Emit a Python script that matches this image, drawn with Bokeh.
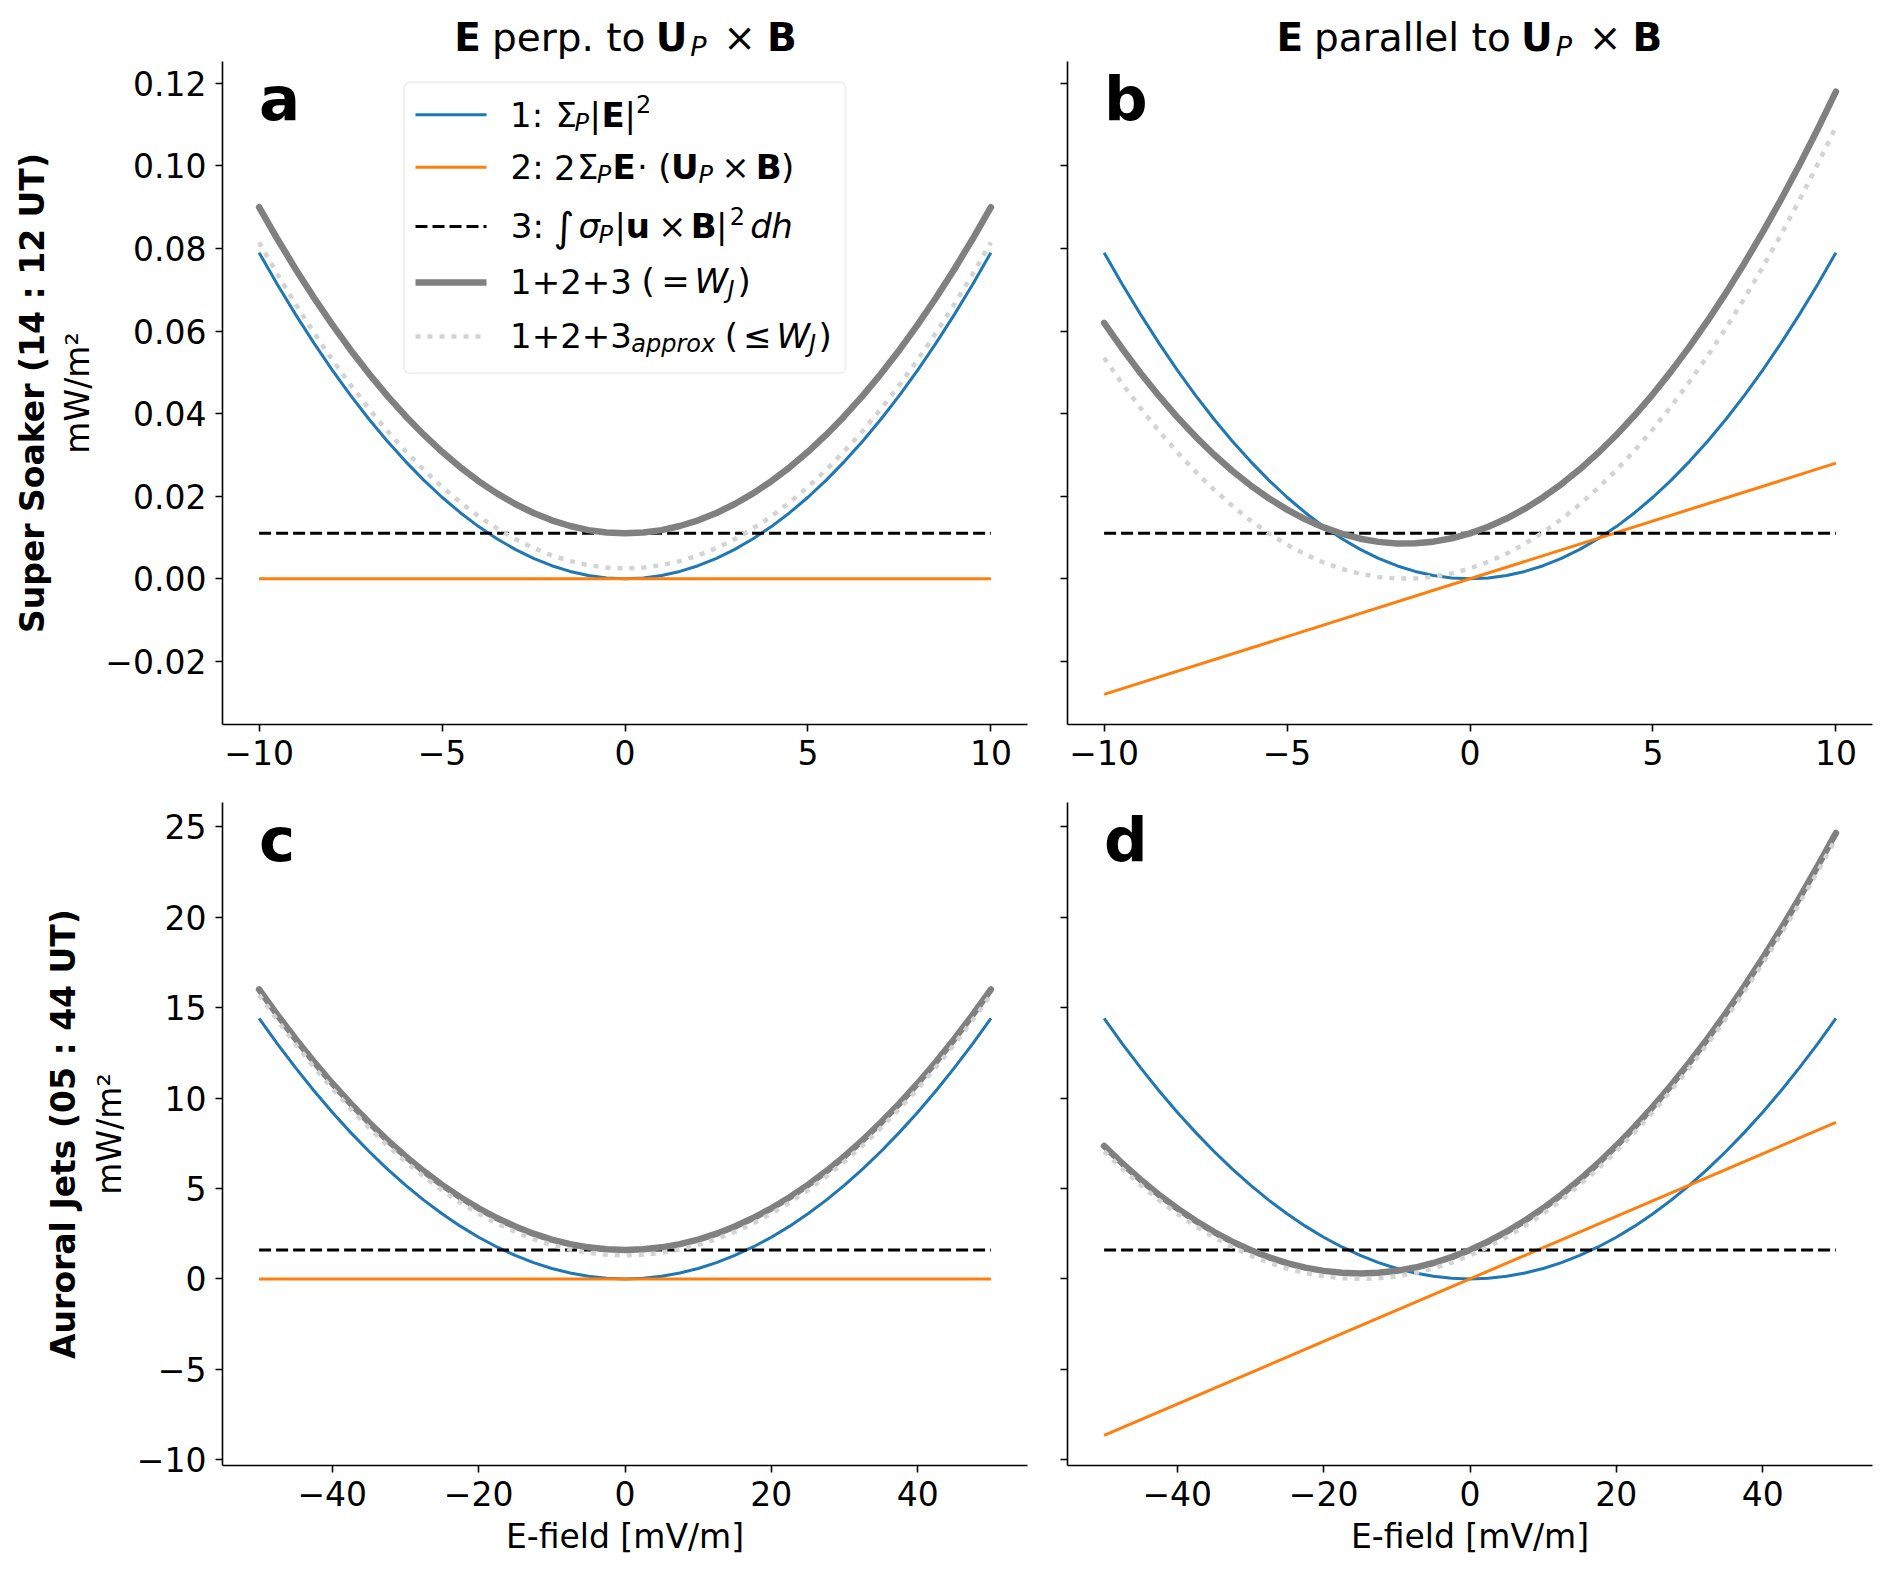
import math
from bokeh.plotting import figure
from bokeh.layouts import column, row
from bokeh.models import (Range1d, FixedTicker, CustomJSTickFormatter, Label,
                          BoxAnnotation, Arrow, LinearAxis)
from bokeh.embed import file_html
from bokeh.resources import INLINE

FONT = "DejaVu Sans"

# ---------------- data: Super Soaker (14:12 UT) ----------------
E_ss = [-10, -9.5, -9, -8.5, -8, -7.5, -7, -6.5, -6, -5.5, -5, -4.5, -4, -3.5, -3, -2.5, -2, -1.5, -1, -0.5, 0,
        0.5, 1, 1.5, 2, 2.5, 3, 3.5, 4, 4.5, 5, 5.5, 6, 6.5, 7, 7.5, 8, 8.5, 9, 9.5, 10]
ss_term1 = [0.07900, 0.07130, 0.06399, 0.05708, 0.05056, 0.04444, 0.03871, 0.03338, 0.02844, 0.02390, 0.01975,
            0.01600, 0.01264, 0.00968, 0.00711, 0.00494, 0.00316, 0.00178, 0.00079, 0.00020, 0.0,
            0.00020, 0.00079, 0.00178, 0.00316, 0.00494, 0.00711, 0.00968, 0.01264, 0.01600, 0.01975,
            0.02390, 0.02844, 0.03338, 0.03871, 0.04444, 0.05056, 0.05708, 0.06399, 0.07130, 0.07900]
ss_perp_total = [0.09000, 0.08230, 0.07499, 0.06808, 0.06156, 0.05544, 0.04971, 0.04438, 0.03944, 0.03490, 0.03075,
                 0.02700, 0.02364, 0.02068, 0.01811, 0.01594, 0.01416, 0.01278, 0.01179, 0.01120, 0.01100,
                 0.01120, 0.01179, 0.01278, 0.01416, 0.01594, 0.01811, 0.02068, 0.02364, 0.02700, 0.03075,
                 0.03490, 0.03944, 0.04438, 0.04971, 0.05544, 0.06156, 0.06808, 0.07499, 0.08230, 0.09000]
ss_perp_approx = [0.08150, 0.07380, 0.06649, 0.05958, 0.05306, 0.04694, 0.04121, 0.03588, 0.03094, 0.02640, 0.02225,
                  0.01850, 0.01514, 0.01218, 0.00961, 0.00744, 0.00566, 0.00428, 0.00329, 0.00270, 0.00250,
                  0.00270, 0.00329, 0.00428, 0.00566, 0.00744, 0.00961, 0.01218, 0.01514, 0.01850, 0.02225,
                  0.02640, 0.03094, 0.03588, 0.04121, 0.04694, 0.05306, 0.05958, 0.06649, 0.07380, 0.08150]
ss_par_total = [0.06200, 0.05570, 0.04979, 0.04428, 0.03916, 0.03444, 0.03011, 0.02618, 0.02264, 0.01950, 0.01675,
                0.01440, 0.01244, 0.01088, 0.00971, 0.00894, 0.00856, 0.00858, 0.00899, 0.00980, 0.01100,
                0.01260, 0.01459, 0.01698, 0.01976, 0.02294, 0.02651, 0.03048, 0.03484, 0.03960, 0.04475,
                0.05030, 0.05624, 0.06258, 0.06931, 0.07644, 0.08396, 0.09188, 0.10019, 0.10890, 0.11800]
ss_par_approx = [0.05350, 0.04720, 0.04129, 0.03578, 0.03066, 0.02594, 0.02161, 0.01768, 0.01414, 0.01100, 0.00825,
                 0.00590, 0.00394, 0.00238, 0.00121, 0.00044, 0.00006, 0.00008, 0.00049, 0.00130, 0.00250,
                 0.00410, 0.00609, 0.00848, 0.01126, 0.01444, 0.01801, 0.02198, 0.02634, 0.03110, 0.03625,
                 0.04180, 0.04774, 0.05408, 0.06081, 0.06794, 0.07546, 0.08338, 0.09169, 0.10040, 0.10950]
# straight lines (terms 2 and 3)
E_ss_lin = [-10, 0, 10]
ss_perp_term2 = [0.0, 0.0, 0.0]
ss_par_term2 = [-0.0280, 0.0, 0.0280]
ss_term3 = [0.011, 0.011, 0.011]

# ---------------- data: Auroral Jets (05:44 UT) ----------------
E_aj = [-50, -47.5, -45, -42.5, -40, -37.5, -35, -32.5, -30, -27.5, -25, -22.5, -20, -17.5, -15, -12.5, -10, -7.5,
        -5, -2.5, 0, 2.5, 5, 7.5, 10, 12.5, 15, 17.5, 20, 22.5, 25, 27.5, 30, 32.5, 35, 37.5, 40, 42.5, 45, 47.5, 50]
aj_term1 = [14.400, 12.996, 11.664, 10.404, 9.216, 8.100, 7.056, 6.084, 5.184, 4.356, 3.600,
            2.916, 2.304, 1.764, 1.296, 0.900, 0.576, 0.324, 0.144, 0.036, 0.0,
            0.036, 0.144, 0.324, 0.576, 0.900, 1.296, 1.764, 2.304, 2.916, 3.600,
            4.356, 5.184, 6.084, 7.056, 8.100, 9.216, 10.404, 11.664, 12.996, 14.400]
aj_perp_total = [16.000, 14.596, 13.264, 12.004, 10.816, 9.700, 8.656, 7.684, 6.784, 5.956, 5.200,
                 4.516, 3.904, 3.364, 2.896, 2.500, 2.176, 1.924, 1.744, 1.636, 1.600,
                 1.636, 1.744, 1.924, 2.176, 2.500, 2.896, 3.364, 3.904, 4.516, 5.200,
                 5.956, 6.784, 7.684, 8.656, 9.700, 10.816, 12.004, 13.264, 14.596, 16.000]
aj_perp_approx = [15.700, 14.296, 12.964, 11.704, 10.516, 9.400, 8.356, 7.384, 6.484, 5.656, 4.900,
                  4.216, 3.604, 3.064, 2.596, 2.200, 1.876, 1.624, 1.444, 1.336, 1.300,
                  1.336, 1.444, 1.624, 1.876, 2.200, 2.596, 3.064, 3.604, 4.216, 4.900,
                  5.656, 6.484, 7.384, 8.356, 9.400, 10.516, 11.704, 12.964, 14.296, 15.700]
aj_par_total = [7.350, 6.379, 5.479, 4.652, 3.896, 3.213, 2.601, 2.062, 1.594, 1.199, 0.875,
                0.624, 0.444, 0.337, 0.301, 0.338, 0.446, 0.627, 0.879, 1.204, 1.600,
                2.069, 2.609, 3.222, 3.906, 4.663, 5.491, 6.392, 7.364, 8.409, 9.525,
                10.714, 11.974, 13.307, 14.711, 16.188, 17.736, 19.357, 21.049, 22.814, 24.650]
aj_par_approx = [7.050, 6.079, 5.179, 4.352, 3.596, 2.913, 2.301, 1.762, 1.294, 0.899, 0.575,
                 0.324, 0.144, 0.037, 0.001, 0.038, 0.146, 0.327, 0.579, 0.904, 1.300,
                 1.769, 2.309, 2.922, 3.606, 4.363, 5.191, 6.092, 7.064, 8.109, 9.225,
                 10.414, 11.674, 13.007, 14.411, 15.888, 17.436, 19.057, 20.749, 22.514, 24.350]
E_aj_lin = [-50, 0, 50]
aj_perp_term2 = [0.0, 0.0, 0.0]
aj_par_term2 = [-8.650, 0.0, 8.650]
aj_term3 = [1.6, 1.6, 1.6]

# ---------------- ticks / labels ----------------
ss_xticks = [-10, -5, 0, 5, 10]
ss_xtick_labels = ["\u221210", "\u22125", "0", "5", "10"]
aj_xticks = [-40, -20, 0, 20, 40]
aj_xtick_labels = ["\u221240", "\u221220", "0", "20", "40"]
ss_yticks = [-0.02, 0.0, 0.02, 0.04, 0.06, 0.08, 0.10, 0.12]
ss_ytick_labels = ["\u22120.02", "0.00", "0.02", "0.04", "0.06", "0.08", "0.10", "0.12"]
aj_yticks = [-10, -5, 0, 5, 10, 15, 20, 25]
aj_ytick_labels = ["\u221210", "\u22125", "0", "5", "10", "15", "20", "25"]
blank_labels = ["", "", "", "", "", "", "", ""]

row_titles = ["Super Soaker (14 : 12 UT)", "Auroral Jets (05 : 44 UT)"]
unit_label = "mW/m\u00b2"
x_label = "E-field [mV/m]"
panel_letters = ["a", "b", "c", "d"]

ss_xlim = (-11, 11)
ss_ylim = (-0.0353, 0.1253)
aj_xlim = (-55, 55)
aj_ylim = (-10.316, 26.336)

BLUE = "#1f77b4"
ORANGE = "#ff7f0e"
GRAY = "#808080"
LGRAY = "#d3d3d3"

MID = 0.346  # (ascent - descent) / 2 of DejaVu Sans, in em


def fmt(ticks, labels):
    return CustomJSTickFormatter(args=dict(t=ticks, l=labels), code="""
        let b = 0;
        for (let i = 0; i < t.length; i++) {
            if (Math.abs(t[i] - tick) < Math.abs(t[b] - tick)) { b = i; }
        }
        return l[b];
    """)


def make_panel(width, height, bl, br, bt, bb, xlim, ylim, xt, xl, yt, yl, xlabel=None, ylabels=None):
    p = figure(width=width, height=height, x_range=Range1d(*xlim), y_range=Range1d(*ylim),
               output_backend="svg", toolbar_location=None,
               min_border_left=bl, min_border_right=br, min_border_top=bt, min_border_bottom=bb)
    p.outline_line_color = None
    p.grid.visible = False
    p.background_fill_color = "white"
    p.border_fill_color = "white"
    for ax, ticks, labels in ((p.xaxis[0], xt, xl), (p.yaxis[0], yt, yl)):
        ax.ticker = FixedTicker(ticks=ticks, minor_ticks=[])
        ax.formatter = fmt(ticks, labels)
        ax.axis_line_width = 1.6
        ax.axis_line_color = "black"
        ax.major_tick_line_width = 1.6
        ax.major_tick_line_color = "black"
        ax.major_tick_in = 0
        ax.major_tick_out = 7
        ax.minor_tick_line_color = None
        ax.major_label_text_font = FONT
        ax.major_label_text_font_size = "33px"
        ax.major_label_text_color = "black"
    p.xaxis[0].major_label_standoff = 8
    p.yaxis[0].major_label_standoff = 9
    if xlabel:
        ax = p.xaxis[0]
        ax.axis_label = xlabel
        ax.axis_label_text_font = FONT
        ax.axis_label_text_font_size = "33px"
        ax.axis_label_text_font_style = "normal"
        ax.axis_label_text_color = "black"
        ax.axis_label_standoff = 8
    if ylabels:
        bold_text, unit_text = ylabels
        ax = p.yaxis[0]
        ax.axis_label = unit_text
        ax.axis_label_text_font = FONT
        ax.axis_label_text_font_size = "33px"
        ax.axis_label_text_font_style = "normal"
        ax.axis_label_text_color = "black"
        ax.axis_label_standoff = 5
        outer = LinearAxis(ticker=FixedTicker(ticks=[]), axis_label=bold_text,
                           axis_line_color=None, major_tick_line_color=None,
                           minor_tick_line_color=None, major_tick_out=0, major_tick_in=0,
                           major_label_standoff=0, axis_label_standoff=4,
                           axis_label_text_font=FONT, axis_label_text_font_size="33px",
                           axis_label_text_font_style="bold", axis_label_text_color="black")
        p.add_layout(outer, "left")
    return p


def draw(p, E, t1, El, t2, t3, tot, appr):
    p.line(E, t1, line_color=BLUE, line_width=3, line_join="round")
    p.line(El, t2, line_color=ORANGE, line_width=3)
    p.line(El, t3, line_color="black", line_width=3, line_dash="12 5")
    p.line(E, tot, line_color=GRAY, line_width=6.5, line_join="round", line_cap="round")
    p.line(E, appr, line_color=LGRAY, line_width=4.5, line_dash="5 7")


def put(p, text, x, base_y, size, style="normal"):
    # base_y: baseline height above the frame bottom, in screen pixels
    p.add_layout(Label(x=x, y=base_y + MID * size, x_units="screen", y_units="screen", text=text,
                       text_font=FONT, text_font_size=f"{size}px", text_font_style=style,
                       text_align="left", text_baseline="middle", text_color="black"))


# ---------------- title strip ----------------
STRIP_W, STRIP_H = 1884, 61
ft = figure(width=STRIP_W, height=STRIP_H, x_range=Range1d(0, STRIP_W), y_range=Range1d(0, STRIP_H),
            output_backend="svg", toolbar_location=None, x_axis_location=None, y_axis_location=None,
            min_border=0, min_border_left=0, min_border_right=0, min_border_top=0, min_border_bottom=0)
ft.outline_line_color = None
ft.grid.visible = False
ft.border_fill_color = "white"
ft.background_fill_color = "white"

TY = STRIP_H - 50.0
TS = 39
SS = 27
for x0, mid, shift in ((453.8, "perp. to", 0.0), (1276.0, "parallel to", 43.2)):
    put(ft, "E", x0, TY, TS, "bold")
    put(ft, mid, x0 + 37.6, TY, TS, "normal")
    put(ft, "U", x0 + 201.4 + shift, TY, TS, "bold")
    put(ft, "P", x0 + 236.0 + shift, TY - 5, SS, "italic")
    put(ft, "\u00d7", x0 + 269.0 + shift, TY, TS, "normal")
    put(ft, "B", x0 + 312.7 + shift, TY, TS, "bold")

# ---------------- panels ----------------
fa = make_panel(1047, 718, 222, 20, 0, 55, ss_xlim, ss_ylim, ss_xticks, ss_xtick_labels,
                ss_yticks, ss_ytick_labels, ylabels=(row_titles[0], unit_label))
fb = make_panel(837, 718, 20, 12, 0, 55, ss_xlim, ss_ylim, ss_xticks, ss_xtick_labels,
                ss_yticks, blank_labels)
fc = make_panel(1047, 790, 222, 20, 23, 104, aj_xlim, aj_ylim, aj_xticks, aj_xtick_labels,
                aj_yticks, aj_ytick_labels, xlabel=x_label, ylabels=(row_titles[1], unit_label))
fd = make_panel(837, 790, 20, 12, 23, 104, aj_xlim, aj_ylim, aj_xticks, aj_xtick_labels,
                aj_yticks, blank_labels, xlabel=x_label)

draw(fa, E_ss, ss_term1, E_ss_lin, ss_perp_term2, ss_term3, ss_perp_total, ss_perp_approx)
draw(fb, E_ss, ss_term1, E_ss_lin, ss_par_term2, ss_term3, ss_par_total, ss_par_approx)
draw(fc, E_aj, aj_term1, E_aj_lin, aj_perp_term2, aj_term3, aj_perp_total, aj_perp_approx)
draw(fd, E_aj, aj_term1, E_aj_lin, aj_par_term2, aj_term3, aj_par_total, aj_par_approx)

for p, letter in zip((fa, fb, fc, fd), panel_letters):
    put(p, letter, 36.5, 605.0, 61, "bold")

# ---------------- legend (panel a) ----------------
fa.add_layout(BoxAnnotation(left=181.3, right=623.0, bottom=351.3, top=642.3,
                            left_units="screen", right_units="screen",
                            top_units="screen", bottom_units="screen",
                            fill_color="white", fill_alpha=0.8,
                            line_color="#cccccc", line_width=2, border_radius=6))

handles = [
    (609.7, dict(line_color=BLUE, line_width=3)),
    (557.3, dict(line_color=ORANGE, line_width=3)),
    (498.0, dict(line_color="black", line_width=3, line_dash="12 5")),
    (442.0, dict(line_color=GRAY, line_width=6.5)),
    (388.0, dict(line_color=LGRAY, line_width=4.5, line_dash="5 7")),
]
for hy, props in handles:
    fa.add_layout(Arrow(end=None, start=None, x_start=193.0, y_start=hy, x_end=264.0, y_end=hy,
                        start_units="screen", end_units="screen", **props))

L = 34
LS = 24
r1, r2, r3, r4, r5 = 598.0, 545.7, 486.3, 431.3, 377.0
SUB = 5.0
SUP = 14.3
legend_pieces = [
    # row 1: 1: Sigma_P |E|^2
    ("1:", 287.6, r1, L, "normal"),
    ("\u03a3", 333.0, r1, L, "normal"),
    ("P", 352.0, r1 - SUB, LS, "italic"),
    ("|", 367.0, r1, L, "normal"),
    ("E", 379.0, r1, L, "bold"),
    ("|", 402.0, r1, L, "normal"),
    ("2", 413.6, r1 + SUP, LS, "normal"),
    # row 2: 2: 2 Sigma_P E . (U_P x B)
    ("2:", 288.0, r2, L, "normal"),
    ("2", 331.4, r2, L, "normal"),
    ("\u03a3", 354.6, r2, L, "normal"),
    ("P", 374.3, r2 - SUB, LS, "italic"),
    ("E", 390.0, r2, L, "bold"),
    ("\u00b7", 414.5, r2, L, "normal"),
    ("(", 435.7, r2, L, "normal"),
    ("U", 448.6, r2, L, "bold"),
    ("P", 476.0, r2 - SUB, LS, "italic"),
    ("\u00d7", 498.7, r2, L, "normal"),
    ("B", 533.3, r2, L, "bold"),
    (")", 558.6, r2, L, "normal"),
    # row 3: 3: int sigma_P |u x B|^2 dh
    ("3:", 288.3, r3, L, "normal"),
    ("\u222b", 331.0, r3 - 3, 40, "normal"),
    ("\u03c3", 356.0, r3, L, "italic"),
    ("P", 376.0, r3 - SUB, LS, "italic"),
    ("|", 392.0, r3, L, "normal"),
    ("u", 403.3, r3, L, "bold"),
    ("\u00d7", 435.4, r3, L, "normal"),
    ("B", 468.3, r3, L, "bold"),
    ("|", 493.6, r3, L, "normal"),
    ("2", 507.3, r3 + SUP, LS, "normal"),
    ("d", 527.7, r3, L, "italic"),
    ("h", 548.7, r3, L, "italic"),
    # row 4: 1+2+3 ( = W_J)
    ("1+2+3", 287.6, r4, L, "normal"),
    ("(", 419.0, r4, L, "normal"),
    ("=", 438.7, r4, L, "normal"),
    ("W", 472.0, r4, L, "italic"),
    ("J", 505.0, r4 - SUB, LS, "italic"),
    (")", 515.0, r4, L, "normal"),
    # row 5: 1+2+3_approx ( <= W_J)
    ("1+2+3", 287.6, r5, L, "normal"),
    ("approx", 408.8, r5 - SUB, LS, "italic"),
    ("(", 502.3, r5, L, "normal"),
    ("\u2264", 520.4, r5, L, "normal"),
    ("W", 554.0, r5, L, "italic"),
    ("J", 586.5, r5 - SUB, LS, "italic"),
    (")", 596.0, r5, L, "normal"),
]
for text, x, y, size, style in legend_pieces:
    put(fa, text, x, y, size, style)

layout = column(ft, row(fa, fb), row(fc, fd))
open("out.html", "w").write(file_html(layout, INLINE))
